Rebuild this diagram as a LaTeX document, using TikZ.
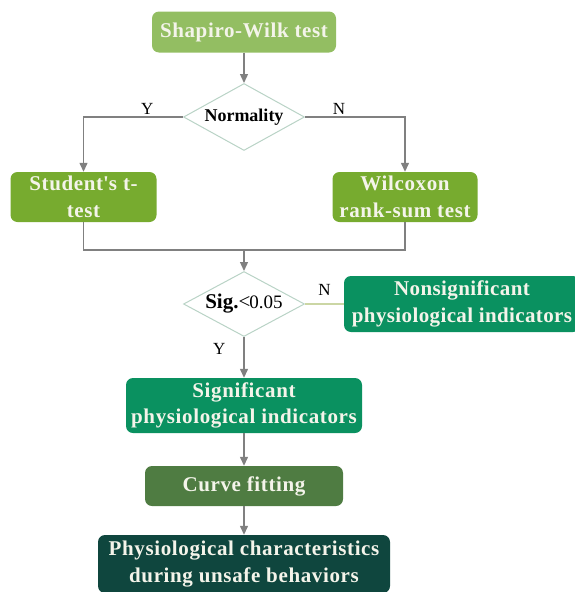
\documentclass[tikz,border=0pt]{standalone}
\usepackage{fontspec}
\setmainfont{Liberation Serif}
\usepackage{tikz}
\usetikzlibrary{shapes,arrows.meta,calc,positioning}

\definecolor{startgreen}{HTML}{93BE62}
\definecolor{testgreen}{HTML}{77AB2F}
\definecolor{sigteal}{HTML}{0A9160}
\definecolor{fitgreen}{HTML}{4F7C42}
\definecolor{endteal}{HTML}{0F463E}
\definecolor{rimgray}{HTML}{B9D3C6}
\definecolor{linegray}{HTML}{808080}
\definecolor{nline}{HTML}{CBD6A4}
\definecolor{boxtext}{HTML}{F4F4EA}

\begin{document}
\begin{tikzpicture}[x=1pt,y=-1pt,
	box/.style={rounded corners=7pt, text=boxtext, align=center, inner sep=0pt,
		font=\fontsize{21}{26.5}\selectfont\bfseries\addfontfeature{LetterSpace=3}},
	test/.style={diamond, draw=rimgray, fill=white, line width=1pt, inner sep=0pt},
	line/.style={draw=linegray, line width=1.3pt},
	arrow/.style={line, -{Triangle[length=9pt,width=8pt]}},
	yn/.style={font=\fontsize{17}{19}\selectfont, inner sep=2pt}]
	\useasboundingbox (0,0) rectangle (575,592);
	
	\node (1) [box, fill=startgreen, minimum width=184pt, minimum height=41pt] at (244,32) {Shapiro-Wilk test};
	\node (2) [test, minimum width=121pt, minimum height=67pt,
		label={[font=\fontsize{18}{20}\selectfont\bfseries]center:Normality}] at (244,117) {};
	\node (3) [box, fill=testgreen, minimum width=146pt, minimum height=50pt] at (83.5,197) {Student\textquotesingle s t-\\test};
	\node (4) [box, fill=testgreen, minimum width=145pt, minimum height=50pt] at (405,197) {Wilcoxon\\rank-sum test};
	
	\coordinate (5) at (244,250);
	
	\node (6) [test, minimum width=121pt, minimum height=65pt,
		label={[font=\fontsize{21}{22}\selectfont]center:\textbf{Sig.}<\kern-1pt{\fontsize{19}{22}\selectfont 0.05}}] at (244,304) {};
	\node (7) [box, fill=sigteal, minimum width=236pt, minimum height=56pt,
		font=\fontsize{21}{26.5}\selectfont\bfseries\addfontfeature{LetterSpace=1.8}] at (462,304) {Nonsignificant\\physiological indicators};
	\node (8) [box, fill=sigteal, minimum width=236pt, minimum height=55pt] at (244,405.5) {Significant\\physiological indicators};
	\node (9) [box, fill=fitgreen, minimum width=198pt, minimum height=40pt] at (244,486) {Curve fitting};
	\node (10) [box, fill=endteal, minimum width=292pt, minimum height=58pt] at (244,564) {Physiological characteristics\\during unsafe behaviors};
	
	\draw[arrow] (1) -- (2);
	\draw[arrow] (2.west) -| node[yn, pos=0.18, above] {Y} (3.north);
	\draw[arrow] (2.east) -| node[yn, pos=0.17, above] {N} (4.north);
	\draw[line] (3.south) |- (5) -| (4.south);
	\draw[arrow] (5) -- (6);
	\draw[draw=nline, line width=1.3pt] (6.east) -- node[yn, above=6pt] {N} (7.west);
	\draw[arrow] (6.south) -- node[yn, pos=0.3, left=16pt] {Y} (8.north);
	\draw[arrow] (8) -- (9);
	\draw[arrow] (9) -- (10);
\end{tikzpicture}
\end{document}
